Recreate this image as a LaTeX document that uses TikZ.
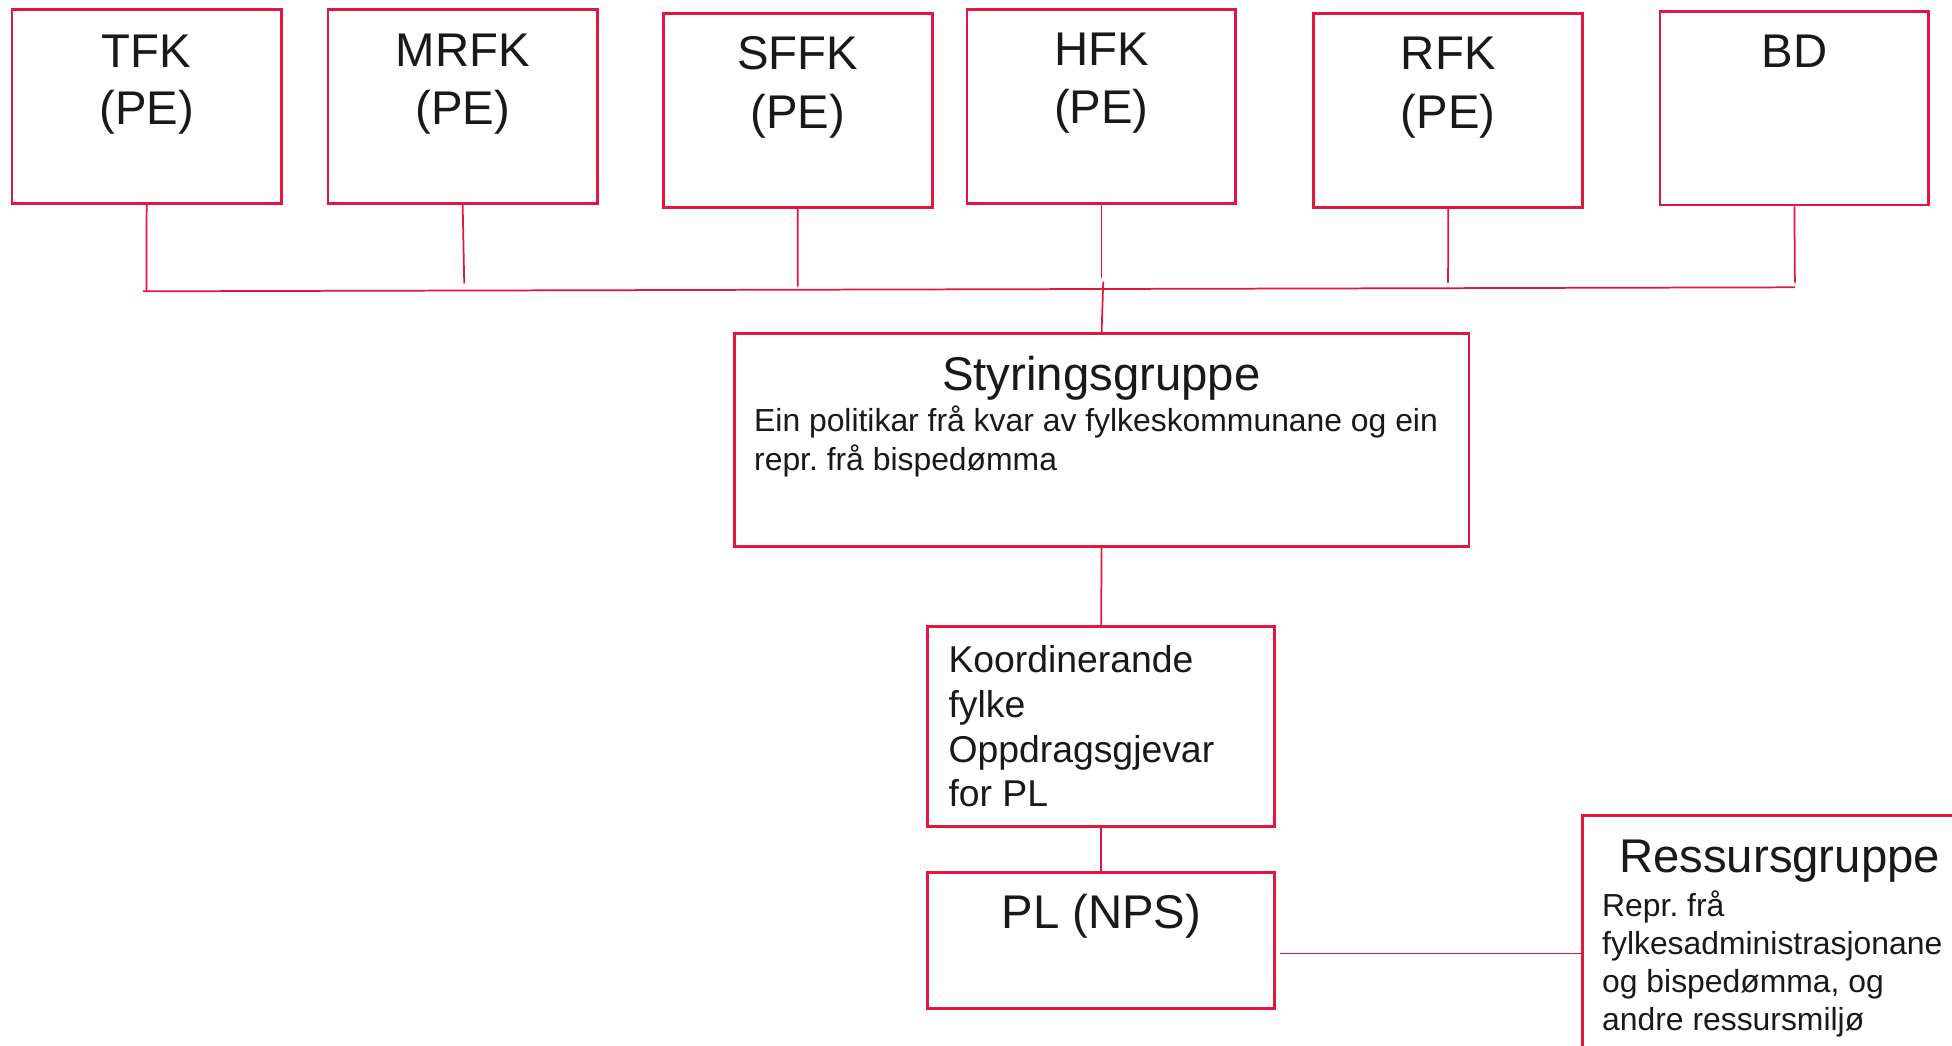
\documentclass[tikz,border=0pt]{standalone}
\usepackage{fontspec}
\setmainfont{Liberation Sans}
\usetikzlibrary{fit}
\definecolor{orgred}{RGB}{224,24,64}
\frenchspacing
\begin{document}
\begin{tikzpicture}[x=0.5pt,y=-0.5pt,
  box/.style={draw=orgred, line width=1.1pt, inner sep=0pt},
  conn/.style={draw=orgred, line width=0.7pt},
  big/.style={font=\fontsize{19}{23}\selectfont, inner sep=0pt, anchor=base, text=black!90},
  mid/.style={font=\fontsize{15}{18}\selectfont, inner sep=0pt, anchor=base west, text=black!90},
  small/.style={font=\fontsize{12.8}{15.25}\selectfont, inner sep=0pt, anchor=base west, text=black!90}]
\useasboundingbox (0,0) rectangle (1568,840);
\fill[white] (0,0) rectangle (1568,840);
\clip (0,0) rectangle (1568,840);

% boxes
\node[box, fit={(9.7,7.5) (225.9,163.3)}] (tfk) {};
\node[box, fit={(263.5,7.5) (479.8,163.3)}] (mrfk) {};
\node[box, fit={(532.9,10.7) (748.8,166.5)}] (sffk) {};
\node[box, fit={(776.8,7.5) (992.6,163.3)}] (hfk) {};
\node[box, fit={(1055.3,10.7) (1271.4,166.5)}] (rfk) {};
\node[box, fit={(1333.5,9.4) (1549.3,164.7)}] (bd) {};
\node[box, fit={(589.8,267.8) (1180,439.2)}] (sty) {};
\node[box, fit={(745,503) (1024,664)}] (koord) {};
\node[box, fit={(745,700.7) (1024,810)}] (pl) {};
\node[box, fit={(1271,655) (1600,877)}] (res) {};

% top texts
\node[big] (tfk1) at (tfk.north |- 0,54.4) {TFK};
\node[big] (tfk2) at (tfk.north |- 0,100.4) {(PE)};
\node[big] (mrfk1) at (mrfk.north |- 0,53.5) {MRFK};
\node[big] (mrfk2) at (mrfk.north |- 0,100.4) {(PE)};
\node[big] (sffk1) at (sffk.north |- 0,56.2) {SFFK};
\node[big] (sffk2) at (sffk.north |- 0,103) {(PE)};
\node[big] (hfk1) at (hfk.north |- 0,53) {HFK};
\node[big] (hfk2) at (hfk.north |- 0,99.6) {(PE)};
\node[big] (rfk1) at (rfk.north |- 0,56.2) {RFK};
\node[big] (rfk2) at (rfk.north |- 0,103) {(PE)};
\node[big] (bd1) at (bd.north |- 0,54.4) {BD};

% Styringsgruppe
\node[big] (styt) at (884.7,313.3) {Styringsgruppe};
\node[small] (styb1) at (605.4,346.8) {Ein politikar frå kvar av fylkeskommunane og ein};
\node[small] (styb2) at (605.4,377.6) {repr. frå bispedømma};

% Koordinerande
\node[mid] (k1) at (761.5,540.3) {Koordinerande};
\node[mid] (k2) at (761.5,576.2) {fylke};
\node[mid] (k3) at (761.5,612.1) {Oppdragsgjevar};
\node[mid] (k4) at (761.5,648) {for PL};

% PL
\node[big] (plt) at (884.7,745.7) {PL (NPS)};

% Ressursgruppe
\node[big] (rest) at (1429.5,701) {Ressursgruppe};
\node[small] (resb1) at (1286.6,736) {Repr. frå};
\node[small] (resb2) at (1286.6,766.5) {fylkesadministrasjonane};
\node[small] (resb3) at (1286.6,797) {og bispedømma, og};
\node[small] (resb4) at (1286.6,827.5) {andre ressursmiljø};

% connectors
\coordinate (busL) at (115,234);
\coordinate (busR) at (1442,230.8);
\coordinate (m1) at (117.6,234);
\coordinate (m2) at (372.9,227.6);
\coordinate (m3) at (640.9,230.3);
\coordinate (m4) at (884.7,223.6);
\coordinate (m5) at (1163.2,227);
\coordinate (m6) at (1441.8,227);
\coordinate (m7) at (886.2,226.3);
\draw[conn] (busL) -- (busR);
\draw[conn] (tfk.south) -- (m1);
\draw[conn] (mrfk.south) -- (m2);
\draw[conn] (sffk.south) -- (m3);
\draw[conn] (hfk.south) -- (m4);
\draw[conn] (rfk.south) -- (m5);
\draw[conn] (bd.south) -- (m6);
\draw[conn] (m7) -- (sty.north);
\draw[conn] (sty.south) -- (koord.north);
\draw[conn] (koord.south) -- (pl.north);
\draw[conn] ([xshift=1.4pt]pl.east |- res.west) -- (res.west);
\end{tikzpicture}
\end{document}
